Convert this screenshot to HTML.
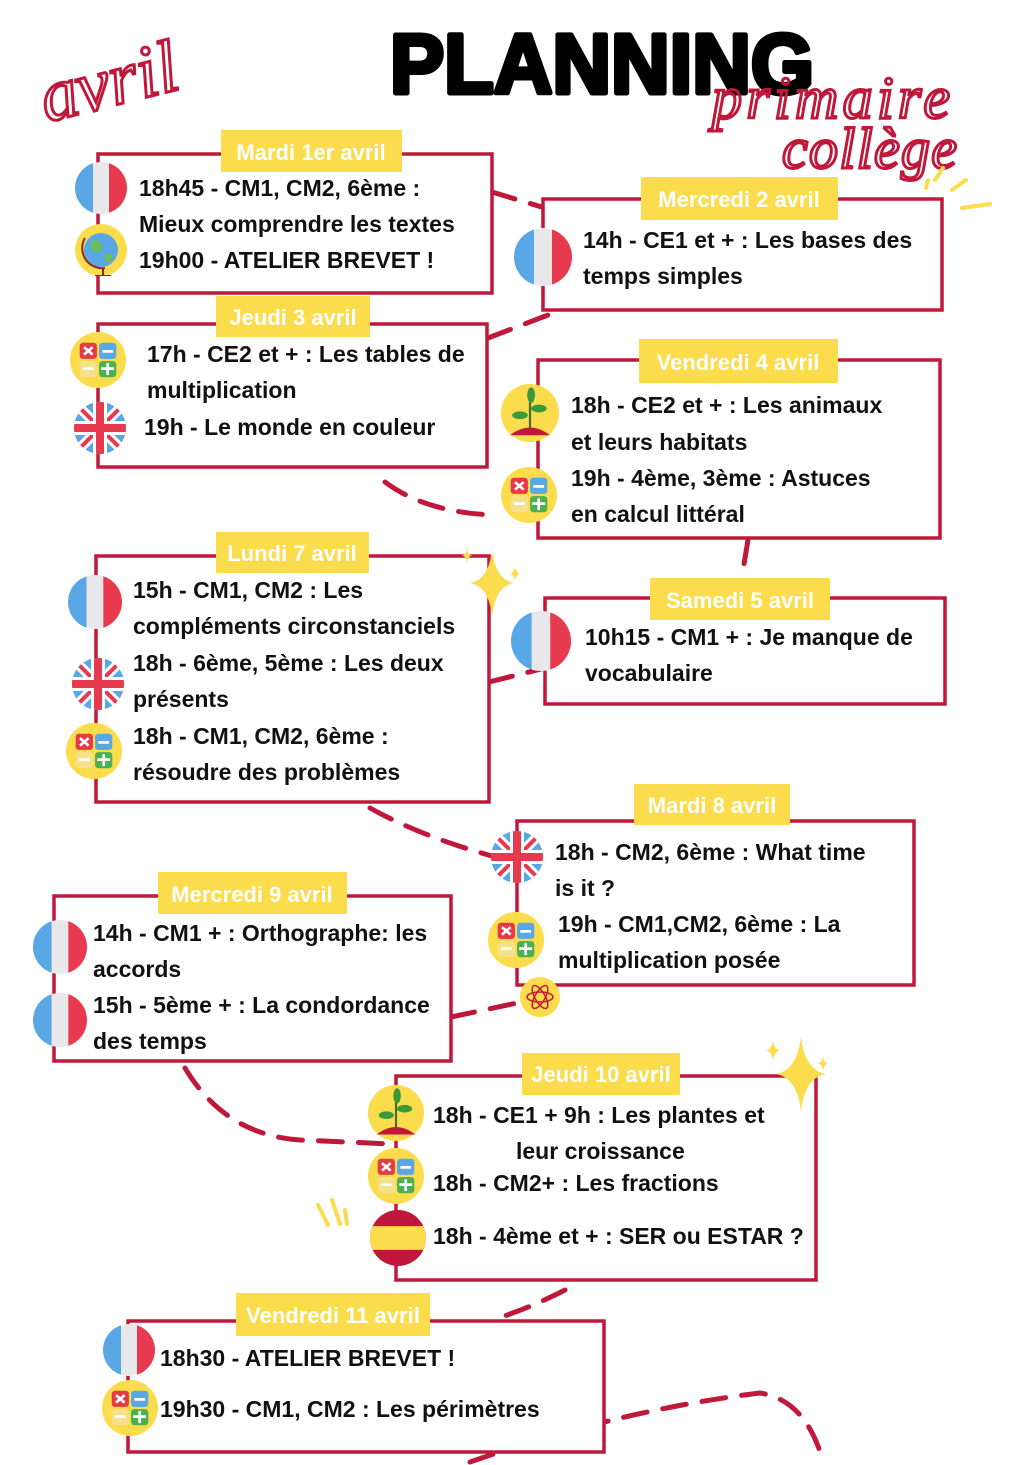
<!DOCTYPE html>
<html><head><meta charset="utf-8"><style>
html,body{margin:0;padding:0;background:#fff;}
svg{display:block;}
.t{font-family:"Liberation Sans",sans-serif;font-size:23px;fill:#111;font-weight:bold;}
.l{font-family:"Liberation Sans",sans-serif;font-size:22px;fill:#fff;font-weight:bold;}
.b{fill:#fff;stroke:#c0183a;stroke-width:3.5;}
.y{fill:#fbdc4c;}
.d{fill:none;stroke:#c0183a;stroke-width:5;stroke-dasharray:24 16;stroke-linecap:round;}
.sc{font-family:"Liberation Serif",serif;font-style:italic;fill:none;stroke:#c0183a;stroke-width:3;}
</style></head><body>
<svg width="1024" height="1465" viewBox="0 0 1024 1465" xmlns="http://www.w3.org/2000/svg">
<defs>
<symbol id="fr" viewBox="-26 -26 52 52"><clipPath id="c1"><circle r="26"/></clipPath><g clip-path="url(#c1)"><rect x="-26" y="-26" width="18" height="52" fill="#5aa7e6"/><rect x="-8" y="-26" width="16" height="52" fill="#e8e8ea"/><rect x="8" y="-26" width="18" height="52" fill="#e83a4e"/></g></symbol>
<symbol id="uk" viewBox="-26 -26 52 52"><clipPath id="c2"><circle r="26"/></clipPath><g clip-path="url(#c2)"><rect x="-26" y="-26" width="52" height="52" fill="#5aa7e6"/><path d="M-26-26L26 26M26-26L-26 26" stroke="#fff" stroke-width="10"/><path d="M-26-26L26 26M26-26L-26 26" stroke="#e83a4e" stroke-width="4"/><rect x="-26" y="-7" width="52" height="14" fill="#fff"/><rect x="-7" y="-26" width="14" height="52" fill="#fff"/><rect x="-26" y="-4" width="52" height="8" fill="#e83a4e"/><rect x="-4" y="-26" width="8" height="52" fill="#e83a4e"/></g></symbol>
<symbol id="es" viewBox="-26 -26 52 52"><clipPath id="c3"><circle r="26"/></clipPath><g clip-path="url(#c3)"><rect x="-26" y="-26" width="52" height="52" fill="#c0183a"/><rect x="-26" y="-11" width="52" height="22" fill="#fbdc4c"/></g></symbol>
<symbol id="ca" viewBox="-26 -26 52 52"><circle r="26" fill="#fbdc4c"/><rect x="-17" y="-16" width="16" height="15" rx="3" fill="#e63946"/><rect x="1" y="-16" width="16" height="15" rx="3" fill="#5aa7e6"/><rect x="-17" y="1" width="16" height="15" rx="3" fill="#f7e08a"/><rect x="1" y="1" width="16" height="15" rx="3" fill="#4caf50"/><path d="M-13-12l8 7M-5-12l-8 7M4-8h10M3 8h12M9 3v11M-14 8h10" stroke="#fff" stroke-width="2.5"/></symbol>
<symbol id="pl" viewBox="-26 -26 52 52"><circle r="26" fill="#fbdc4c"/><path d="M0 14V-10" stroke="#4a6b2a" stroke-width="2"/><ellipse cx="-9" cy="2" rx="7" ry="3.5" fill="#3a9a3a"/><ellipse cx="8" cy="-4" rx="7" ry="3.5" fill="#3a9a3a"/><ellipse cx="1" cy="-16" rx="3.5" ry="7" fill="#3a9a3a"/><path d="M-18 20Q0 6 18 20Z" fill="#c0183a"/></symbol>
<symbol id="gl" viewBox="-26 -26 52 52"><circle r="26" fill="#fbdc4c"/><circle r="17" fill="#5aa7e6"/><path d="M-10-8q6-4 10 2t-4 8q-6 2-6-10M4 4q8-2 8 6q-4 4-8 0" fill="#6bbf59"/><path d="M-16-12a20 20 0 0 0 20 30M2 18v8M-6 26h16" stroke="#8b2a1a" stroke-width="2" fill="none"/></symbol>
<symbol id="st" viewBox="-20 -30 40 60"><path d="M0-30Q3-3 20 0Q3 3 0 30Q-3 3-20 0Q-3-3 0-30Z" fill="#fbdc4c"/></symbol>
</defs>

<!-- title -->
<text x="390" y="93" textLength="424" lengthAdjust="spacingAndGlyphs" style="font-family:'Liberation Sans',sans-serif;font-weight:900;font-size:84px;fill:#000;stroke:#000;stroke-width:5;stroke-linejoin:round">PLANNING</text>
<text x="38" y="108" class="sc" style="font-size:74px" transform="rotate(-14 100 80)">avril</text>
<text x="712" y="118" class="sc" style="font-size:60px" textLength="238">primaire</text>
<text x="782" y="168" class="sc" style="font-size:58px" textLength="175">collège</text>
<path d="M935 180l8-12M952 190l14-10M962 208l28-4M926 188l2-8" stroke="#fbdc4c" stroke-width="4" stroke-linecap="round"/>
<path d="M318 1205l10 20M332 1200l8 24M345 1210l2 14" stroke="#fbdc4c" stroke-width="4" stroke-linecap="round"/>

<!-- connectors -->
<path class="d" d="M492 192L545 208"/>
<path class="d" d="M488 338L556 312"/>
<path class="d" d="M385 482Q425 512 492 515"/>
<path class="d" d="M748 540L742 576"/>
<path class="d" d="M489 682L545 668"/>
<path class="d" d="M370 808Q420 836 492 856"/>
<path class="d" d="M451 1017L517 1003"/>
<path class="d" d="M185 1068Q225 1135 300 1140L392 1144"/>
<path class="d" d="M565 1290Q530 1308 498 1318"/>
<path class="d" d="M470 1462Q620 1410 760 1393Q805 1400 822 1458"/>

<!-- boxes -->
<rect class="b" x="98" y="154" width="394" height="139"/>
<rect class="b" x="543" y="199" width="399" height="111"/>
<rect class="b" x="98" y="324" width="389" height="143"/>
<rect class="b" x="538" y="360" width="402" height="178"/>
<rect class="b" x="96" y="556" width="393" height="246"/>
<rect class="b" x="545" y="598" width="400" height="106"/>
<rect class="b" x="517" y="821" width="397" height="164"/>
<rect class="b" x="54" y="896" width="397" height="165"/>
<rect class="b" x="396" y="1076" width="420" height="204"/>
<rect class="b" x="128" y="1321" width="476" height="131"/>

<!-- labels -->
<rect class="y" x="221" y="130" width="181" height="42"/><text class="l" x="311" y="160" text-anchor="middle">Mardi 1er avril</text>
<rect class="y" x="641" y="177" width="197" height="43"/><text class="l" x="739" y="207" text-anchor="middle">Mercredi 2 avril</text>
<rect class="y" x="216" y="296" width="154" height="41"/><text class="l" x="293" y="325" text-anchor="middle">Jeudi 3 avril</text>
<rect class="y" x="639" y="339" width="199" height="44"/><text class="l" x="738" y="370" text-anchor="middle">Vendredi 4 avril</text>
<rect class="y" x="216" y="532" width="153" height="41"/><text class="l" x="292" y="561" text-anchor="middle">Lundi 7 avril</text>
<rect class="y" x="650" y="578" width="180" height="42"/><text class="l" x="740" y="608" text-anchor="middle">Samedi 5 avril</text>
<rect class="y" x="634" y="784" width="156" height="41"/><text class="l" x="712" y="813" text-anchor="middle">Mardi 8 avril</text>
<rect class="y" x="158" y="872" width="189" height="42"/><text class="l" x="252" y="902" text-anchor="middle">Mercredi 9 avril</text>
<rect class="y" x="522" y="1053" width="158" height="42"/><text class="l" x="601" y="1082" text-anchor="middle">Jeudi 10 avril</text>
<rect class="y" x="236" y="1293" width="194" height="43"/><text class="l" x="333" y="1323" text-anchor="middle">Vendredi 11 avril</text>

<!-- text -->
<text class="t" x="139" y="196">18h45 - CM1, CM2, 6ème :</text>
<text class="t" x="139" y="232">Mieux comprendre les textes</text>
<text class="t" x="139" y="268">19h00 - ATELIER BREVET !</text>
<text class="t" x="583" y="248">14h - CE1 et + : Les bases des</text>
<text class="t" x="583" y="284">temps simples</text>
<text class="t" x="147" y="362">17h - CE2 et + : Les tables de</text>
<text class="t" x="147" y="398">multiplication</text>
<text class="t" x="144" y="435">19h - Le monde en couleur</text>
<text class="t" x="571" y="413">18h - CE2 et + : Les animaux</text>
<text class="t" x="571" y="450">et leurs habitats</text>
<text class="t" x="571" y="486">19h - 4ème, 3ème : Astuces</text>
<text class="t" x="571" y="522">en calcul littéral</text>
<text class="t" x="133" y="598">15h - CM1, CM2 : Les</text>
<text class="t" x="133" y="634">compléments circonstanciels</text>
<text class="t" x="133" y="671">18h - 6ème, 5ème : Les deux</text>
<text class="t" x="133" y="707">présents</text>
<text class="t" x="133" y="744">18h - CM1, CM2, 6ème :</text>
<text class="t" x="133" y="780">résoudre des problèmes</text>
<text class="t" x="585" y="645">10h15 - CM1 + : Je manque de</text>
<text class="t" x="585" y="681">vocabulaire</text>
<text class="t" x="555" y="860">18h - CM2, 6ème : What time</text>
<text class="t" x="555" y="896">is it ?</text>
<text class="t" x="558" y="932">19h - CM1,CM2, 6ème : La</text>
<text class="t" x="558" y="968">multiplication posée</text>
<text class="t" x="93" y="941">14h - CM1 + : Orthographe: les</text>
<text class="t" x="93" y="977">accords</text>
<text class="t" x="93" y="1013">15h - 5ème + : La condordance</text>
<text class="t" x="93" y="1049">des temps</text>
<text class="t" x="433" y="1123">18h - CE1 + 9h : Les plantes et</text>
<text class="t" x="516" y="1159">leur croissance</text>
<text class="t" x="433" y="1191">18h - CM2+ : Les fractions</text>
<text class="t" x="433" y="1244">18h - 4ème et + : SER ou ESTAR ?</text>
<text class="t" x="160" y="1366">18h30 - ATELIER BREVET !</text>
<text class="t" x="160" y="1417">19h30 - CM1, CM2 : Les périmètres</text>

<!-- icons -->
<use href="#fr" x="75" y="162" width="52" height="52"/>
<use href="#gl" x="75" y="224" width="52" height="52"/>
<use href="#fr" x="514" y="228" width="58" height="58"/>
<use href="#ca" x="70" y="332" width="56" height="56"/>
<use href="#uk" x="74" y="402" width="52" height="52"/>
<use href="#pl" x="501" y="384" width="58" height="58"/>
<use href="#ca" x="501" y="467" width="56" height="56"/>
<use href="#fr" x="68" y="575" width="54" height="54"/>
<use href="#uk" x="72" y="658" width="52" height="52"/>
<use href="#ca" x="66" y="723" width="56" height="56"/>
<use href="#fr" x="511" y="611" width="60" height="60"/>
<use href="#uk" x="491" y="831" width="52" height="52"/>
<use href="#ca" x="488" y="912" width="56" height="56"/>
<circle cx="540" cy="997" r="20" fill="#fbdc4c"/>
<g fill="none" stroke="#c0183a" stroke-width="1.5"><ellipse cx="540" cy="997" rx="13" ry="5"/><ellipse cx="540" cy="997" rx="13" ry="5" transform="rotate(60 540 997)"/><ellipse cx="540" cy="997" rx="13" ry="5" transform="rotate(-60 540 997)"/></g>
<use href="#fr" x="33" y="920" width="54" height="54"/>
<use href="#fr" x="33" y="993" width="54" height="54"/>
<use href="#pl" x="368" y="1085" width="56" height="56"/>
<use href="#ca" x="368" y="1148" width="56" height="56"/>
<use href="#es" x="370" y="1210" width="56" height="56"/>
<use href="#fr" x="103" y="1324" width="52" height="52"/>
<use href="#ca" x="102" y="1380" width="56" height="56"/>

<!-- sparkles -->
<use href="#st" x="470" y="550" width="44" height="66"/>
<use href="#st" x="462" y="548" width="10" height="15"/>
<use href="#st" x="510" y="566" width="10" height="15"/>
<use href="#st" x="776" y="1036" width="50" height="76"/>
<use href="#st" x="766" y="1040" width="14" height="21"/>
<use href="#st" x="818" y="1056" width="10" height="15"/>
</svg>
</body></html>
